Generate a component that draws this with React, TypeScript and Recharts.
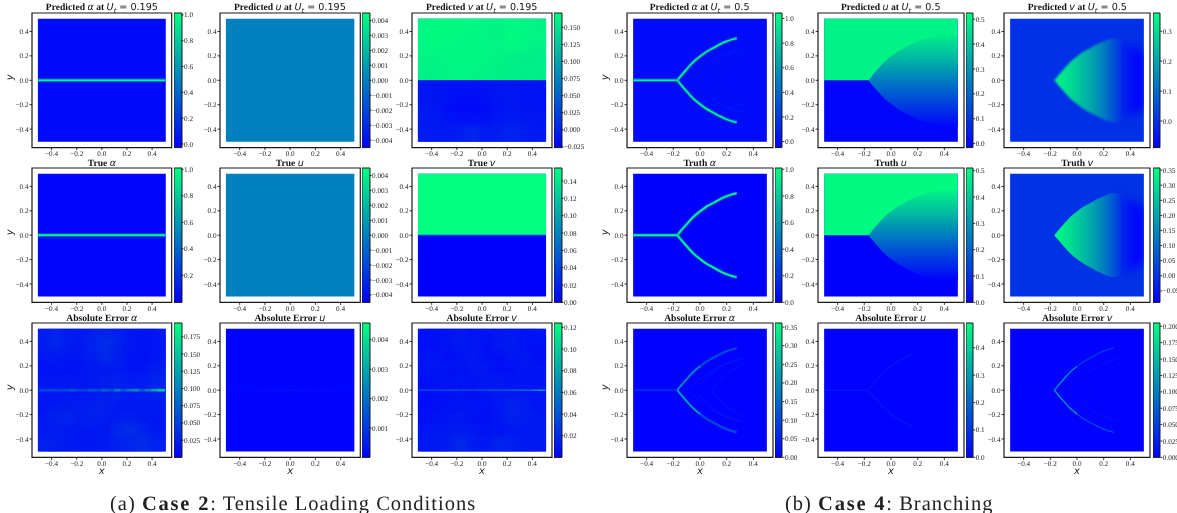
import React from 'react';
import { ComposedChart, BarChart, Bar, Area, Line, Scatter, XAxis, YAxis, ReferenceArea } from 'recharts';

// ---------- data ----------
const axisTicks = [-0.4, -0.2, 0, 0.2, 0.4];
const alphaTicks = [0, 0.2, 0.4, 0.6, 0.8, 1];
const alphaTicksNoZero = [0.2, 0.4, 0.6, 0.8, 1];
const uTicksC2 = [-0.004, -0.003, -0.002, -0.001, 0, 0.001, 0.002, 0.003, 0.004];
const vPredTicksC2 = [-0.025, 0, 0.025, 0.05, 0.075, 0.1, 0.125, 0.15];
const vTrueTicksC2 = [0, 0.02, 0.04, 0.06, 0.08, 0.1, 0.12, 0.14];
const errAlphaTicksC2 = [0.025, 0.05, 0.075, 0.1, 0.125, 0.15, 0.175];
const errUTicksC2 = [0.001, 0.002, 0.003, 0.004];
const errVTicksC2 = [0.02, 0.04, 0.06, 0.08, 0.1, 0.12];
const uPredTicksC4 = [0, 0.1, 0.2, 0.3, 0.4, 0.5];
const vPredTicksC4 = [0, 0.1, 0.2, 0.3];
const vTrueTicksC4 = [-0.05, 0, 0.05, 0.1, 0.15, 0.2, 0.25, 0.3, 0.35];
const errAlphaTicksC4 = [0, 0.05, 0.1, 0.15, 0.2, 0.25, 0.3, 0.35];
const errUTicksC4 = [0, 0.1, 0.2, 0.3, 0.4];
const errVTicksC4 = [0, 0.025, 0.05, 0.075, 0.1, 0.125, 0.15, 0.175, 0.2];

type P = [number, number];
const wholeCrack: P[] = [[-0.51, 0], [0.51, 0]];
const leftCrack: P[] = [[-0.51, 0], [-0.17, 0]];
const upperBranch: P[] = [[-0.17, 0], [-0.14, 0.04], [-0.1, 0.09], [-0.05, 0.15], [0, 0.195], [0.05, 0.235], [0.1, 0.265], [0.15, 0.295], [0.2, 0.32], [0.275, 0.345]];
const lowerBranch: P[] = [[-0.17, 0], [-0.14, -0.04], [-0.1, -0.09], [-0.05, -0.15], [0, -0.195], [0.05, -0.235], [0.1, -0.265], [0.15, -0.295], [0.2, -0.32], [0.275, -0.345]];
const upperInner: P[] = [[-0.17, 0], [-0.14, 0.04], [-0.1, 0.09], [-0.05, 0.15], [0, 0.195]];
const lowerInner: P[] = [[-0.17, 0], [-0.14, -0.04], [-0.1, -0.09], [-0.05, -0.15], [0, -0.195]];
const upperShort: P[] = [[-0.17, 0], [-0.14, 0.04], [-0.1, 0.09], [-0.05, 0.15], [0, 0.195], [0.05, 0.235], [0.1, 0.265], [0.17, 0.305]];
const lowerShort: P[] = [[-0.17, 0], [-0.14, -0.04], [-0.1, -0.09], [-0.05, -0.15], [0, -0.195], [0.05, -0.235], [0.1, -0.265], [0.17, -0.305]];
const faintUpperA: P[] = [[-0.08, 0.02], [0, 0.09], [0.1, 0.165], [0.2, 0.215], [0.34, 0.265]];
const faintLowerA: P[] = [[-0.08, -0.02], [0, -0.09], [0.1, -0.165], [0.2, -0.215], [0.34, -0.265]];
const faintUpperB: P[] = [[0.09, 0], [0.13, 0.06], [0.2, 0.13], [0.33, 0.22]];
const faintLowerB: P[] = [[0.09, 0], [0.13, -0.06], [0.2, -0.13], [0.33, -0.22]];
const faintUpperC: P[] = [[-0.02, 0.03], [0.05, 0.1], [0.15, 0.19], [0.28, 0.26]];
const faintLowerC: P[] = [[-0.02, -0.03], [0.05, -0.1], [0.15, -0.19], [0.28, -0.26]];
const wingsC2: P[][] = [
  [[0.05, 0.02], [0.1, 0.05], [0.16, 0.09]],
  [[0.05, -0.02], [0.09, -0.04], [0.15, -0.05]],
  [[0.29, 0.03], [0.32, -0.01], [0.35, -0.03]],
  [[0.33, 0.01], [0.38, 0.03], [0.42, 0.02]],
];

const topBoundaryC4: P[] = [[-0.51, 0], [-0.17, 0], [-0.14, 0.04], [-0.1, 0.09], [-0.05, 0.15], [0, 0.195], [0.05, 0.235], [0.1, 0.265], [0.15, 0.295], [0.2, 0.32], [0.275, 0.345], [0.35, 0.36], [0.42, 0.37], [0.51, 0.375]];
const uFanHi: P[] = [[-0.17, 0.01], [-0.14, 0.055], [-0.1, 0.105], [-0.05, 0.165], [0, 0.21], [0.05, 0.25], [0.1, 0.28], [0.15, 0.31], [0.2, 0.335], [0.275, 0.36], [0.35, 0.375], [0.42, 0.385], [0.51, 0.39]];
const uFanLo: number[] = [0, -0.04, -0.09, -0.15, -0.195, -0.235, -0.265, -0.295, -0.32, -0.345, -0.36, -0.37, -0.375];
const vFanHi: P[] = [[-0.17, 0], [-0.14, 0.04], [-0.1, 0.09], [-0.05, 0.15], [0, 0.195], [0.05, 0.235], [0.1, 0.265], [0.15, 0.295], [0.2, 0.32], [0.275, 0.345], [0.33, 0.335]];
const vFanLo: number[] = [0, -0.04, -0.09, -0.15, -0.195, -0.235, -0.265, -0.295, -0.32, -0.345, -0.335];
const vTailHi: P[] = [[0.3, 0.33], [0.36, 0.31], [0.42, 0.28], [0.51, 0.22]];
const vTailLo: number[] = [-0.33, -0.31, -0.28, -0.22];
const vTailStops: P[] = [[0.3, 0.0], [0.36, -0.03], [0.42, -0.07], [0.46, -0.085], [0.51, -0.08]];
const uFanPredStops: P[] = [[0.39, 0.5], [0.19, 0.38], [0, 0.25], [-0.19, 0.12], [-0.375, 0]];
const uFanTrueStops: P[] = [[0.39, 0.5], [0.19, 0.38], [0, 0.25], [-0.19, 0.12], [-0.375, 0]];
const vFanPredStops: P[] = [[-0.17, 0.35], [-0.05, 0.3], [0.1, 0.21], [0.2, 0.13], [0.3, 0.03], [0.33, 0.0]];
const vFanTrueStops: P[] = [[-0.17, 0.355], [-0.05, 0.3], [0.1, 0.21], [0.2, 0.13], [0.3, 0.03], [0.33, 0.0]];

const errAlphaGridC2 = [
  [0.022, 0.028, 0.022, 0.02, 0.026, 0.03, 0.024, 0.018, 0.016, 0.018],
  [0.024, 0.03, 0.022, 0.02, 0.028, 0.036, 0.026, 0.018, 0.014, 0.016],
  [0.018, 0.022, 0.018, 0.018, 0.024, 0.032, 0.024, 0.016, 0.014, 0.018],
  [0.014, 0.016, 0.014, 0.016, 0.02, 0.022, 0.02, 0.016, 0.016, 0.024],
  [0.018, 0.018, 0.018, 0.018, 0.02, 0.024, 0.026, 0.022, 0.022, 0.028],
  [0.018, 0.018, 0.018, 0.018, 0.02, 0.024, 0.026, 0.022, 0.024, 0.026],
  [0.016, 0.02, 0.022, 0.022, 0.024, 0.026, 0.018, 0.018, 0.02, 0.02],
  [0.02, 0.026, 0.028, 0.024, 0.026, 0.022, 0.022, 0.024, 0.018, 0.018],
  [0.02, 0.022, 0.02, 0.018, 0.018, 0.02, 0.032, 0.036, 0.026, 0.02],
  [0.026, 0.024, 0.02, 0.018, 0.018, 0.02, 0.026, 0.028, 0.034, 0.026],
];
const errVGridC2 = [
  [0.008, 0.008, 0.01, 0.012, 0.01, 0.01, 0.012, 0.012, 0.01, 0.01],
  [0.008, 0.008, 0.01, 0.013, 0.012, 0.008, 0.012, 0.014, 0.01, 0.008],
  [0.01, 0.01, 0.008, 0.01, 0.013, 0.009, 0.008, 0.012, 0.012, 0.008],
  [0.01, 0.011, 0.009, 0.009, 0.012, 0.012, 0.008, 0.008, 0.011, 0.01],
  [0.008, 0.009, 0.009, 0.009, 0.01, 0.012, 0.012, 0.01, 0.01, 0.01],
  [0.008, 0.008, 0.009, 0.009, 0.009, 0.01, 0.012, 0.012, 0.012, 0.01],
  [0.007, 0.008, 0.009, 0.01, 0.009, 0.009, 0.012, 0.018, 0.015, 0.01],
  [0.008, 0.01, 0.01, 0.012, 0.009, 0.008, 0.011, 0.017, 0.015, 0.012],
  [0.01, 0.012, 0.012, 0.013, 0.012, 0.009, 0.01, 0.012, 0.012, 0.013],
  [0.012, 0.012, 0.014, 0.02, 0.014, 0.011, 0.018, 0.016, 0.013, 0.012],
];
const predVGridC2 = [
  [0.164, 0.166, 0.168, 0.168, 0.166, 0.164, 0.162, 0.166, 0.164, 0.162],
  [0.166, 0.168, 0.168, 0.166, 0.165, 0.163, 0.162, 0.168, 0.165, 0.163],
  [0.165, 0.167, 0.166, 0.164, 0.165, 0.164, 0.163, 0.167, 0.165, 0.16],
  [0.162, 0.163, 0.164, 0.165, 0.166, 0.165, 0.162, 0.16, 0.158, 0.158],
  [0.16, 0.161, 0.163, 0.164, 0.163, 0.162, 0.16, 0.159, 0.158, 0.158],
  [-0.008, -0.009, -0.01, -0.01, -0.01, -0.009, -0.008, -0.008, -0.009, -0.01],
  [-0.008, -0.009, -0.012, -0.014, -0.014, -0.012, -0.008, -0.006, -0.01, -0.012],
  [-0.006, -0.008, -0.014, -0.018, -0.018, -0.016, -0.01, -0.006, -0.009, -0.012],
  [-0.006, -0.006, -0.01, -0.012, -0.012, -0.012, -0.008, -0.005, -0.006, -0.008],
  [-0.004, -0.004, -0.006, -0.002, 0.003, -0.004, -0.002, 0.002, -0.002, -0.006],
];
const errAlphaSpotsC2 = [0.05, 0.055, 0.055, 0.05, 0.055, 0.065, 0.05, 0.05, 0.065, 0.055, 0.075, 0.06, 0.09, 0.065, 0.09, 0.105, 0.07, 0.095, 0.125, 0.15];
const errUSpotsC2 = [0.0002, 0.0002, 0.0002, 0.0002, 0.0003, 0.0003, 0.0003, 0.0004, 0.0003, 0.0004, 0.0004, 0.0003, 0.0004, 0.0003, 0.0003, 0.0003, 0.0003, 0.0002, 0.0002, 0.0002];
const errVSpotsC2 = [0.035, 0.035, 0.035, 0.035, 0.035, 0.04, 0.035, 0.04, 0.035, 0.04, 0.04, 0.045, 0.04, 0.045, 0.045, 0.05, 0.05, 0.05, 0.065, 0.08];

// ---------- helpers ----------
const COLOR_MATH = '"DejaVu Sans", sans-serif';
const SERIF = '"Liberation Serif", serif';
const winter = (v: number, lo: number, hi: number) => {
  const t = Math.max(0, Math.min(1, (v - lo) / (hi - lo)));
  return `rgb(0,${Math.round(255 * t)},${Math.round(255 - 127.5 * t)})`;
};
const xy = (pts: P[]) => pts.map(([x, y]) => ({ x, y }));
const band = (hi: P[], lo: number[]) => hi.map(([x, h], i) => ({ x, r: [lo[i], h] }));
const upTo = (pts: P[], top: number) => pts.map(([x, y]) => ({ x, r: [y, top] }));
const gridCells = (g: number[][]) =>
  g.flatMap((row, r) => row.map((v, c) => ({ x: -0.5 + (c + 0.5) * 0.1, y: 0.5 - (r + 0.5) * 0.1, v, w: 0.1, h: 0.1 })));
const spotCells = (vals: number[], h: number) =>
  vals.map((v, c) => ({ x: -0.5 + (c + 0.5) * 0.05, y: 0, v, w: 0.05, h }));

type Layer =
  | { kind: 'area'; data: any[]; v?: number; stops?: P[]; dir?: 'x' | 'y'; blur?: number }
  | { kind: 'line'; data: P[]; v: number; width: number; blur?: number; opacity?: number }
  | { kind: 'cells'; data: any[]; blur: number; split?: boolean; pad?: number };

type PanelSpec = {
  title: React.ReactNode; base: number; vmin: number; vmax: number; ticks: number[]; dec: number; layers: Layer[];
};

const M = ({ children }: { children: React.ReactNode }) => (
  <span style={{ fontFamily: COLOR_MATH, fontStyle: 'italic', fontWeight: 400 }}>{children}</span>
);
const Ut = ({ val }: { val: string }) => (
  <>
    <M>U</M><sub style={{ fontFamily: COLOR_MATH, fontSize: '0.7em', fontWeight: 400, lineHeight: 0, fontStyle: 'italic' }}>t</sub>
    <span style={{ fontFamily: COLOR_MATH, fontWeight: 400 }}> = {val}</span>
  </>
);
const pred = (s: string, val: string) => <>Predicted <M>{s}</M> at <Ut val={val} /></>;
const named = (w: string, s: string) => <>{w} <M>{s}</M></>;

const lineGlow = (data: P[], v: number, core: number, glow: number): Layer[] => [
  { kind: 'line', data, v: v * 0.45, width: glow, blur: 0.6, opacity: 0.85 },
  { kind: 'line', data, v, width: core, blur: 0.3 },
];

const case2: PanelSpec[] = [
  { title: pred('α', '0.195'), base: 0.012, vmin: -0.028, vmax: 1.015, ticks: alphaTicks, dec: 1, layers: lineGlow(wholeCrack, 1, 1.6, 3.8) },
  { title: pred('u', '0.195'), base: 0, vmin: -0.0045, vmax: 0.0045, ticks: uTicksC2, dec: 3, layers: [] },
  { title: pred('v', '0.195'), base: -0.009, vmin: -0.026, vmax: 0.171, ticks: vPredTicksC2, dec: 3, layers: [
    { kind: 'area', data: upTo(wholeCrack, 0.51), v: 0.163 },
    { kind: 'cells', data: gridCells(predVGridC2), blur: 3, split: true, pad: 5 },
    { kind: 'line', data: wholeCrack, v: 0.03, width: 1 },
  ] },
  { title: named('True', 'α'), base: 0.018, vmin: -0.004, vmax: 1.01, ticks: alphaTicksNoZero, dec: 1, layers: lineGlow(wholeCrack, 1, 1.7, 4) },
  { title: named('True', 'u'), base: 0, vmin: -0.0045, vmax: 0.0045, ticks: uTicksC2, dec: 3, layers: [] },
  { title: named('True', 'v'), base: 0, vmin: 0, vmax: 0.155, ticks: vTrueTicksC2, dec: 2, layers: [
    { kind: 'area', data: upTo(wholeCrack, 0.51), v: 0.155 },
    { kind: 'line', data: wholeCrack, v: 0.02, width: 0.8 },
  ] },
  { title: named('Absolute Error', 'α'), base: 0.02, vmin: 0, vmax: 0.195, ticks: errAlphaTicksC2, dec: 3, layers: [
    { kind: 'cells', data: gridCells(errAlphaGridC2), blur: 3, pad: 4 },
    ...wingsC2.map((data): Layer => ({ kind: 'line', data, v: 0.055, width: 1.6, blur: 0.7 })),
    { kind: 'cells', data: spotCells(errAlphaSpotsC2, 0.022), blur: 0.7 },
  ] },
  { title: named('Absolute Error', 'u'), base: 0.00005, vmin: 0, vmax: 0.00457, ticks: errUTicksC2, dec: 3, layers: [
    { kind: 'cells', data: spotCells(errUSpotsC2, 0.008), blur: 0.5 },
  ] },
  { title: named('Absolute Error', 'v'), base: 0.01, vmin: 0, vmax: 0.124, ticks: errVTicksC2, dec: 2, layers: [
    { kind: 'cells', data: gridCells(errVGridC2), blur: 3, pad: 4 },
    { kind: 'cells', data: spotCells(errVSpotsC2, 0.012), blur: 0.4 },
  ] },
];

const alphaCracks = (core: number, glow: number): Layer[] => [
  ...lineGlow(leftCrack, 1, core, glow),
  ...lineGlow(upperBranch, 1, core, glow),
  ...lineGlow(lowerBranch, 1, core, glow),
];
const faintArcs = (v: number): Layer[] =>
  [faintUpperA, faintLowerA, faintUpperB, faintLowerB, faintUpperC, faintLowerC].map(
    (data): Layer => ({ kind: 'line', data, v, width: 1, blur: 0.5 })
  );

const case4: PanelSpec[] = [
  { title: pred('α', '0.5'), base: 0, vmin: -0.049, vmax: 1.045, ticks: alphaTicks, dec: 1, layers: [...faintArcs(0.06), ...alphaCracks(1.6, 3.4)] },
  { title: pred('u', '0.5'), base: -0.005, vmin: -0.016, vmax: 0.525, ticks: uPredTicksC4, dec: 1, layers: [
    { kind: 'area', data: band(uFanHi, uFanLo), stops: uFanPredStops, dir: 'y', blur: 0.7 },
    { kind: 'area', data: upTo(topBoundaryC4, 0.51), v: 0.5, blur: 0.5 },
  ] },
  { title: pred('v', '0.5'), base: -0.005, vmin: -0.089, vmax: 0.361, ticks: vPredTicksC4, dec: 1, layers: [
    { kind: 'area', data: band(vTailHi, vTailLo), stops: vTailStops, dir: 'x', blur: 4 },
    { kind: 'area', data: band(vFanHi, vFanLo), stops: vFanPredStops, dir: 'x', blur: 0.8 },
  ] },
  { title: named('Truth', 'α'), base: 0, vmin: 0, vmax: 1.01, ticks: alphaTicks, dec: 1, layers: alphaCracks(1.7, 3.4) },
  { title: named('Truth', 'u'), base: 0, vmin: 0, vmax: 0.51, ticks: uPredTicksC4, dec: 1, layers: [
    { kind: 'area', data: band(uFanHi, uFanLo), stops: uFanTrueStops, dir: 'y', blur: 0.4 },
    { kind: 'area', data: upTo(topBoundaryC4, 0.51), v: 0.5, blur: 0.3 },
  ] },
  { title: named('Truth', 'v'), base: 0, vmin: -0.088, vmax: 0.357, ticks: vTrueTicksC4, dec: 2, layers: [
    { kind: 'area', data: band(vTailHi, vTailLo), stops: vTailStops, dir: 'x', blur: 4 },
    { kind: 'area', data: band(vFanHi, vFanLo), stops: vFanTrueStops, dir: 'x', blur: 0.5 },
  ] },
  { title: named('Absolute Error', 'α'), base: 0.002, vmin: 0, vmax: 0.361, ticks: errAlphaTicksC4, dec: 2, layers: [
    ...faintArcs(0.035),
    { kind: 'line', data: leftCrack, v: 0.05, width: 2.2, blur: 0.6 },
    { kind: 'line', data: upperBranch, v: 0.1, width: 2.4, blur: 0.6 },
    { kind: 'line', data: lowerBranch, v: 0.1, width: 2.4, blur: 0.6 },
    { kind: 'line', data: upperInner, v: 0.2, width: 1.4, blur: 0.4 },
    { kind: 'line', data: lowerInner, v: 0.24, width: 1.4, blur: 0.4 },
  ] },
  { title: named('Absolute Error', 'u'), base: 0.001, vmin: 0, vmax: 0.49, ticks: errUTicksC4, dec: 1, layers: [
    { kind: 'line', data: leftCrack, v: 0.09, width: 0.7, blur: 0.3 },
    { kind: 'line', data: upperShort, v: 0.07, width: 1, blur: 0.4 },
    { kind: 'line', data: lowerShort, v: 0.07, width: 1, blur: 0.4 },
  ] },
  { title: named('Absolute Error', 'v'), base: 0.001, vmin: 0, vmax: 0.205, ticks: errVTicksC4, dec: 3, layers: [
    ...faintArcs(0.012),
    { kind: 'line', data: leftCrack, v: 0.012, width: 0.8, blur: 0.3 },
    { kind: 'line', data: upperBranch, v: 0.05, width: 1.3, blur: 0.4 },
    { kind: 'line', data: lowerBranch, v: 0.06, width: 1.3, blur: 0.4 },
    { kind: 'line', data: upperInner, v: 0.11, width: 1.3, blur: 0.3 },
    { kind: 'line', data: lowerInner, v: 0.12, width: 1.3, blur: 0.3 },
  ] },
];

// ---------- layout ----------
const ROWS = [[12.7, 147.3], [168.3, 302.7], [323.3, 457.7]];
const COLS_C2 = [[32, 171.7, 174, 181.5], [219.7, 360, 362, 369.5], [411.7, 551.7, 554, 561.5]];
const COLS_C4 = [[626.7, 772.7, 775.3, 782.7], [817.7, 963.7, 966.3, 973.5], [1004.3, 1150.3, 1153, 1160.3]];
const AX_L = 32;
const AX_B = 30;
const TOP = 3;
const CB_PAD = 6;

const tickStyle = { fontFamily: SERIF, fontSize: 7.2, fill: '#222' };
const fmt = (dec: number) => (v: number) => {
  const s = Math.abs(v).toFixed(dec);
  return v < -1e-9 ? `\u2212${s}` : s;
};

function Panel({ id, spec, col, row, dx, hw }: { id: string; spec: PanelSpec; col: number[]; row: number[]; dx: number; hw: number }) {
  const dy = 0.551;
  const hh = 0.503;
  const fw = col[1] - col[0];
  const fh = row[1] - row[0];
  const ppx = fw / (2 * dx);
  const ppy = fh / (2 * dy);
  const imgX = AX_L + (dx - hw) * ppx;
  const imgY = TOP + (dy - hh) * ppy;
  const imgW = 2 * hw * ppx;
  const imgH = 2 * hh * ppy;
  const midY = TOP + dy * ppy;
  const col0 = (v: number) => winter(v, spec.vmin, spec.vmax);
  const isLeft = col === COLS_C2[0] || col === COLS_C4[0];
  const isBottom = row === ROWS[2];
  const clipAll = `url(#${id}all)`;
  const children: React.ReactNode[] = [];
  const defs: React.ReactNode[] = [];
  spec.layers.forEach((l, i) => {
    if (l.kind === 'area') {
      let fill = l.v !== undefined ? col0(l.v) : 'none';
      if (l.stops) {
        const xs = l.data.map((d: any) => d.x);
        const vs = l.data.flatMap((d: any) => d.r);
        const a = l.dir === 'x' ? Math.min(...xs) : Math.max(...vs);
        const b = l.dir === 'x' ? Math.max(...xs) : Math.min(...vs);
        defs.push(
          <linearGradient key={i} id={`${id}g${i}`} x1="0" y1="0" x2={l.dir === 'x' ? 1 : 0} y2={l.dir === 'x' ? 0 : 1}>
            {l.stops.map(([p, v], k) => (
              <stop key={k} offset={(p - a) / (b - a)} stopColor={col0(v)} />
            ))}
          </linearGradient>
        );
        fill = `url(#${id}g${i})`;
      }
      children.push(
        <Area key={`a${i}`} data={l.data} dataKey="r" type="monotone" fill={fill} fillOpacity={1} stroke="none" dot={false} activeDot={false}
          isAnimationActive={false} style={{ filter: l.blur ? `blur(${l.blur}px)` : undefined, clipPath: clipAll }} />
      );
    } else if (l.kind === 'line') {
      children.push(
        <Line key={`l${i}`} data={xy(l.data)} dataKey="y" type="monotone" stroke={col0(l.v)} strokeWidth={l.width} strokeOpacity={l.opacity ?? 1}
          dot={false} activeDot={false} isAnimationActive={false} style={{ filter: l.blur ? `blur(${l.blur}px)` : undefined, clipPath: clipAll }} />
      );
    } else {
      children.push(
        <Scatter key={`s${i}`} data={l.data} isAnimationActive={false}
          shape={(p: any) => {
            const d = p.payload ?? p;
            const pad = l.pad ?? 0;
            const w = d.w * ppx + 1 + pad;
            const h = d.h * ppy + (pad ? 1 + pad : 0);
            const clip = l.split ? (d.y > 0 ? 'top' : 'bot') : 'all';
            return (
              <rect x={p.cx - w / 2} y={p.cy - h / 2} width={w} height={h} fill={col0(d.v)}
                style={{ filter: `blur(${l.blur}px)`, clipPath: `url(#${id}${clip})` }} />
            );
          }} />
      );
    }
  });
  return (
    <>
      <div style={{ position: 'absolute', left: col[0] - 40, width: fw + 80, top: row[0] - 10.5, height: 12, lineHeight: '12px', textAlign: 'center', fontFamily: SERIF, fontWeight: 700, fontSize: 9.6, color: '#111', whiteSpace: 'nowrap' }}>
        {spec.title}
      </div>
      <div style={{ position: 'absolute', left: col[0] - AX_L, top: row[0] - TOP }}>
        <ComposedChart width={AX_L + fw + 3} height={TOP + fh + AX_B} margin={{ top: TOP, right: 3, bottom: 0, left: 0 }}>
          <defs>
            <clipPath id={`${id}all`}><rect x={imgX} y={imgY} width={imgW} height={imgH} /></clipPath>
            <clipPath id={`${id}top`}><rect x={imgX} y={imgY} width={imgW} height={midY - imgY} /></clipPath>
            <clipPath id={`${id}bot`}><rect x={imgX} y={midY} width={imgW} height={imgY + imgH - midY} /></clipPath>
            {defs}
          </defs>
          <XAxis dataKey="x" type="number" domain={[-dx, dx]} ticks={axisTicks} interval={0} tickFormatter={fmt(1)} tick={tickStyle}
            tickSize={2.5} tickMargin={1} height={AX_B} axisLine={false} tickLine={{ stroke: '#000', strokeWidth: 0.8 }}
            label={isBottom ? { value: 'x', position: 'insideBottom', offset: 13, style: { fontFamily: COLOR_MATH, fontStyle: 'italic', fontSize: 10, fill: '#222' } } : undefined} />
          <YAxis dataKey="y" type="number" domain={[-dy, dy]} ticks={axisTicks} interval={0} tickFormatter={fmt(1)} tick={tickStyle}
            tickSize={2.5} tickMargin={1} width={AX_L} axisLine={false} tickLine={{ stroke: '#000', strokeWidth: 0.8 }}
            label={isLeft ? { value: 'y', angle: -90, position: 'insideLeft', offset: 9, style: { fontFamily: COLOR_MATH, fontStyle: 'italic', fontSize: 10, fill: '#222' } } : undefined} />
          <ReferenceArea x1={-hw} x2={hw} y1={-hh} y2={hh} fill={col0(spec.base)} fillOpacity={1} stroke="none" />
          <Line data={xy(wholeCrack)} dataKey="y" stroke="none" dot={false} activeDot={false} isAnimationActive={false} />
          {children}
          <ReferenceArea x1={-dx} x2={dx} y1={-dy} y2={dy} fill="none" stroke="#1a1a1a" strokeWidth={1.2} />
        </ComposedChart>
      </div>
      <div style={{ position: 'absolute', left: col[2], top: row[0] - CB_PAD }}>
        <BarChart width={col[3] - col[2] + 40} height={fh + 2 * CB_PAD} data={[{ n: 'c', r: [spec.vmin, spec.vmax] }]} barCategoryGap={0} margin={{ top: CB_PAD, right: 0, bottom: CB_PAD, left: 0 }}>
          <defs>
            <linearGradient id={`${id}cb`} x1="0" y1="0" x2="0" y2="1">
              <stop offset="0" stopColor="rgb(0,255,128)" />
              <stop offset="1" stopColor="rgb(0,0,255)" />
            </linearGradient>
          </defs>
          <XAxis dataKey="n" hide />
          <YAxis orientation="right" type="number" domain={[spec.vmin, spec.vmax]} ticks={spec.ticks} interval={0} tickFormatter={fmt(spec.dec)} tick={tickStyle}
            tickSize={2} tickMargin={0.5} width={40} axisLine={false} tickLine={{ stroke: '#000', strokeWidth: 0.8 }} />
          <Bar dataKey="r" fill={`url(#${id}cb)`} stroke="#1a1a1a" strokeWidth={1} isAnimationActive={false} />
        </BarChart>
      </div>
    </>
  );
}

const captionStyle: React.CSSProperties = { position: 'absolute', top: 492.5, height: 22, lineHeight: '22px', fontFamily: SERIF, fontSize: 20.5, letterSpacing: 1, color: '#222', whiteSpace: 'nowrap' };

export default function App() {
  return (
    <div style={{ position: 'absolute', left: 0, top: 0, width: 1177, height: 513, overflow: 'hidden', willChange: 'transform', textRendering: 'geometricPrecision' }}>
      {case2.map((s, i) => (
        <Panel key={`a${i}`} id={`a${i}`} spec={s} col={COLS_C2[i % 3]} row={ROWS[Math.floor(i / 3)]} dx={0.556} hw={0.509} />
      ))}
      {case4.map((s, i) => (
        <Panel key={`b${i}`} id={`b${i}`} spec={s} col={COLS_C4[i % 3]} row={ROWS[Math.floor(i / 3)]} dx={0.547} hw={0.501} />
      ))}
      <div style={{ ...captionStyle, left: 110 }}>
        (a) <b style={{ letterSpacing: 1.8 }}>Case 2</b>: Tensile Loading Conditions
      </div>
      <div style={{ ...captionStyle, left: 785 }}>
        (b) <b style={{ letterSpacing: 1.8 }}>Case 4</b>: Branching
      </div>
    </div>
  );
}
